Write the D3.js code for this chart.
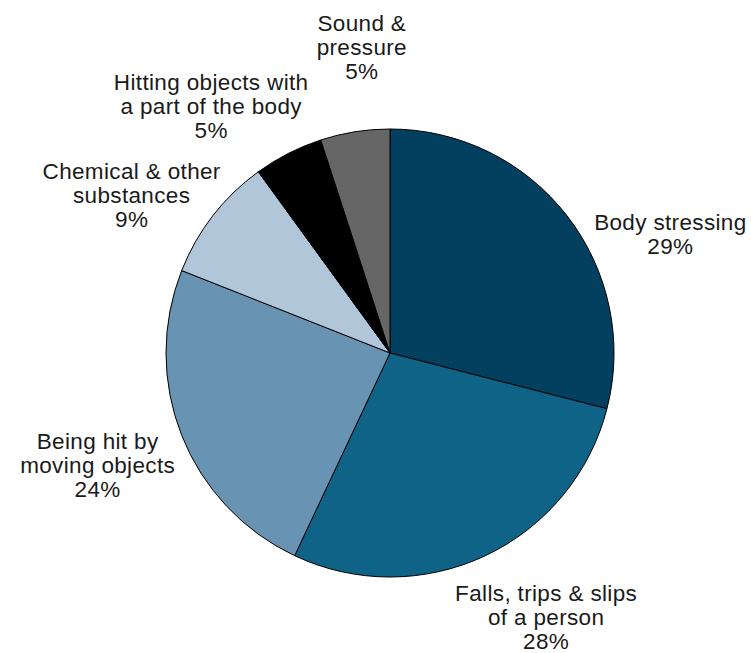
<!DOCTYPE html>
<html>
<head>
<meta charset="utf-8">
<script src="https://cdn.jsdelivr.net/npm/d3@7"></script>
<style>
  body { margin: 0; background: #fff; }
  text { font-family: "Liberation Sans", Arial, sans-serif; font-size: 22.5px; letter-spacing: 0.35px; fill: #1a1a1a; }
</style>
</head>
<body>
<svg width="751" height="653"></svg>
<script>
// slice data, clockwise from 12 o'clock
var categories = ["Body stressing", "Falls, trips & slips of a person", "Being hit by moving objects",
                  "Chemical & other substances", "Hitting objects with a part of the body", "Sound & pressure"]
var values = [29, 28, 24, 9, 5, 5]
var labelLines = [
    ["Body stressing"],
    ["Falls, trips & slips", "of a person"],
    ["Being hit by", "moving objects"],
    ["Chemical & other", "substances"],
    ["Hitting objects with", "a part of the body"],
    ["Sound &", "pressure"]
]
var colors = ["#03405f", "#0f6386", "#6893b2", "#b2c6da", "#000000", "#666666"]

var drawPie = function()
{
    var cx = 390, cy = 353, radius = 224
    var labelRadius = 308
    var lineHeight = 24

    // nudges off the label arc so labels sit like the original
    var nudge = [[37, 70], [25, -15], [-6, -1], [-15, 31], [-39, 28], [20, -2]]

    var data = categories.map(function(c, i) {
        return {name: c, value: values[i], lines: labelLines[i], color: colors[i]}
    })

    var pie = d3.pie().sort(null).value(function(d) { return d.value })
    var arc = d3.arc().innerRadius(0).outerRadius(radius)
    var labelArc = d3.arc().innerRadius(labelRadius).outerRadius(labelRadius)

    var g = d3.select("svg")
        .append("g")
        .attr("transform", "translate(" + cx + "," + cy + ")")

    var arcs = pie(data)

    g.selectAll("path")
        .data(arcs)
        .enter()
        .append("path")
        .attr("d", arc)
        .attr("fill", function(d) { return d.data.color })
        .attr("stroke", "#000")
        .attr("stroke-width", 1)

    var labels = g.selectAll(".label")
        .data(arcs)
        .enter()
        .append("text")
        .attr("class", "label")
        .attr("text-anchor", "middle")
        .attr("transform", function(d, i) {
            var c = labelArc.centroid(d)
            return "translate(" + (c[0] + nudge[i][0]) + "," + (c[1] + nudge[i][1]) + ")"
        })

    labels.each(function(d) {
        var lines = d.data.lines.concat([d.data.value + "%"])
        var t = d3.select(this)
        var top = -(lines.length - 1) * lineHeight / 2
        lines.forEach(function(line, k) {
            t.append("tspan")
                .attr("x", 0)
                .attr("y", top + k * lineHeight)
                .attr("dy", "0.35em")
                .text(line)
        })
    })
}

drawPie()
</script>
</body>
</html>
